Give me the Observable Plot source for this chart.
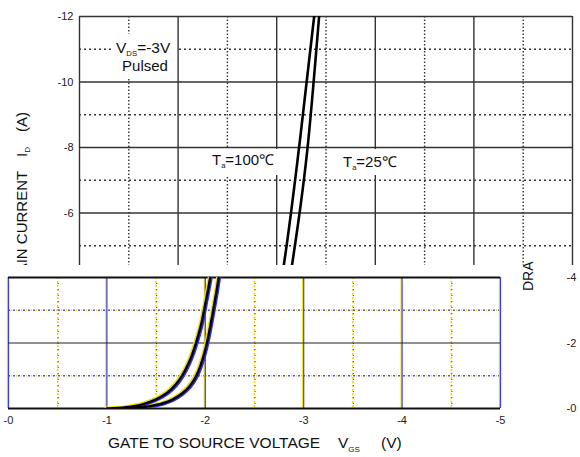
<!DOCTYPE html>
<html><head><meta charset="utf-8">
<script src="https://cdn.jsdelivr.net/npm/d3@7"></script>
<script src="https://cdn.jsdelivr.net/npm/@observablehq/plot@0.6"></script>
<style>
body{margin:0;background:#fff;font-family:"Liberation Sans",Arial,sans-serif;}
#wrap{position:relative;width:580px;height:457px;overflow:hidden;background:#fff;}
#wrap svg{position:absolute;left:0;}
</style></head><body><div id="wrap"></div>
<script>
// ---- data ----
const vgs100 = [-1.0, -1.2, -1.35, -1.45, -1.55, -1.65, -1.73, -1.8, -1.86, -1.91, -1.96, -2.0, -2.05, -2.235, -2.38];
const id100  = [0, -0.04, -0.12, -0.22, -0.36, -0.58, -0.85, -1.2, -1.6, -2.05, -2.6, -3.2, -4.0, -8.2, -12];
const vgs25  = [-1.1, -1.3, -1.45, -1.57, -1.67, -1.76, -1.84, -1.9, -1.95, -2.0, -2.04, -2.08, -2.12, -2.145, -2.32, -2.43];
const id25   = [0, -0.03, -0.08, -0.16, -0.28, -0.45, -0.68, -0.95, -1.3, -1.8, -2.35, -3.0, -3.7, -4.2, -8.2, -12];

const majorX = [0, -1, -2, -3, -4, -5];
const minorX = [-0.5, -1.5, -2.5, -3.5, -4.5];
const xTickLabels = ["-0", "-1", "-2", "-3", "-4", "-5"];
const topMajorY = [-12, -10, -8, -6, -4];
const topMinorY = [-11, -9, -7, -5];
const topTickLabels = ["-12", "-10", "-8", "-6", "-4"];
const botMajorY = [-4, -2, 0];
const botMinorY = [-3, -1];
const botTickLabels = ["-4", "-2", "-0"];

const t100 = vgs100.map((v, i) => ({v, id: id100[i]}));
const t25 = vgs25.map((v, i) => ({v, id: id25[i]}));
const font = "'Liberation Sans', Arial, sans-serif";
const wrap = document.getElementById("wrap");

// ---- upper panel ----
const topChart = Plot.plot({
  width: 580, height: 278,
  marginTop: 16, marginBottom: 0, marginLeft: 79, marginRight: 8,
  x: {domain: [0, -5]},
  y: {domain: [-4, -12]},
  style: {fontFamily: font, fontSize: "11px", background: "white", color: "#222", overflow: "visible"},
  marks: [
    Plot.ruleY(topMinorY, {stroke: "#333", strokeWidth: 1.3, strokeDasharray: "2,3"}),
    Plot.ruleX(minorX, {stroke: "#333", strokeWidth: 1.4, strokeDasharray: "1.5,2"}),
    Plot.ruleY(topMajorY, {stroke: "#333", strokeWidth: 1.3}),
    Plot.ruleX(majorX, {stroke: "#333", strokeWidth: 1.4}),
    Plot.line(t100, {x: "v", y: "id", stroke: "#000", strokeWidth: 2.6, curve: "monotone-x", clip: true}),
    Plot.line(t25, {x: "v", y: "id", stroke: "#000", strokeWidth: 2.6, curve: "monotone-x", clip: true}),
    Plot.axisY(topMajorY.slice(0, 4), {tickSize: 0, tickPadding: 6, label: null, fontSize: 11,
      tickFormat: d => topTickLabels[topMajorY.indexOf(d)]})
  ]
});
topChart.style.top = "0px";
wrap.append(topChart);

// ---- annotations in the upper panel + y title (below the lower panel) ----
const ovA = d3.select(wrap).append("svg").attr("width", 580).attr("height", 457).style("top", "0px")
  .attr("font-family", font).attr("fill", "#111");
ovA.append("rect").attr("x", 111).attr("y", 34).attr("width", 66).attr("height", 43).attr("fill", "white");
ovA.append("rect").attr("x", 205).attr("y", 149).attr("width", 77).attr("height", 26).attr("fill", "white");
ovA.append("rect").attr("x", 336).attr("y", 149).attr("width", 72).attr("height", 26).attr("fill", "white");

function subLabel(x, y, main, sub, rest, size) {
  const t = ovA.append("text").attr("x", x).attr("y", y).attr("font-size", size);
  t.append("tspan").text(main);
  t.append("tspan").attr("font-size", size * 0.5).attr("dy", 3).text(sub);
  t.append("tspan").attr("dy", -3).text(rest);
  return t;
}
subLabel(116, 53, "V", "DS", "=-3V", 15.5);
ovA.append("text").attr("x", 145).attr("y", 71).attr("font-size", 15).attr("text-anchor", "middle").text("Pulsed");
subLabel(212, 165, "T", "a", "=100℃", 15);
subLabel(343, 167, "T", "a", "=25℃", 15);

const yt = ovA.append("text").attr("transform", "translate(27,295) rotate(-90)").attr("font-size", 15);
yt.append("tspan").attr("x", 0).text("DRAIN CURRENT");
yt.append("tspan").attr("x", 138).text("I");
yt.append("tspan").attr("font-size", 8).attr("dy", 3).text("D");
yt.append("tspan").attr("x", 163).attr("dy", -3).text("(A)");

// ---- lower panel ----
const botChart = Plot.plot({
  width: 580, height: 192,
  marginTop: 12, marginBottom: 49, marginLeft: 8, marginRight: 80,
  x: {domain: [0, -5]},
  y: {domain: [0, -4]},
  style: {fontFamily: font, fontSize: "11px", background: "white", color: "#222", overflow: "visible"},
  marks: [
    Plot.ruleX(minorX, {stroke: "#e6d800", strokeWidth: 1.5, strokeDasharray: "2,2"}),
    Plot.ruleX(minorX, {stroke: "#4a4ae0", strokeWidth: 1.2, strokeDasharray: "1,5", dx: 0.5}),
    Plot.ruleY(botMinorY, {stroke: "#5555d5", strokeWidth: 1.3, strokeDasharray: "2,3"}),
    Plot.ruleY(botMinorY, {stroke: "#e6d800", strokeWidth: 1.3, strokeDasharray: "1,4", strokeDashoffset: 2}),
    Plot.ruleX(majorX, {stroke: "#f0e000", strokeWidth: 1.2, dx: -1}),
    Plot.ruleX(majorX, {stroke: "#3c3ce6", strokeWidth: 1.2}),
    Plot.ruleY(botMajorY.filter(d => d === -2), {stroke: "#222", strokeWidth: 1}),
    Plot.ruleY(botMajorY.filter(d => d !== -2), {stroke: "#111", strokeWidth: 2}),
    Plot.line(t100, {x: "v", y: "id", stroke: "#f0e000", strokeWidth: 2, dx: -1.4, dy: -1, curve: "monotone-x", clip: true}),
    Plot.line(t25, {x: "v", y: "id", stroke: "#f0e000", strokeWidth: 2, dx: -1.4, dy: -1, curve: "monotone-x", clip: true}),
    Plot.line(t100, {x: "v", y: "id", stroke: "#3030e0", strokeWidth: 2, dx: 1.4, dy: 1, curve: "monotone-x", clip: true}),
    Plot.line(t25, {x: "v", y: "id", stroke: "#3030e0", strokeWidth: 2, dx: 1.4, dy: 1, curve: "monotone-x", clip: true}),
    Plot.line(t100, {x: "v", y: "id", stroke: "#000", strokeWidth: 2.4, curve: "monotone-x", clip: true}),
    Plot.line(t25, {x: "v", y: "id", stroke: "#000", strokeWidth: 2.4, curve: "monotone-x", clip: true}),
    Plot.axisX(majorX, {tickSize: 0, tickPadding: 8, label: null, fontSize: 11,
      tickFormat: d => xTickLabels[majorX.indexOf(d)]}),
    Plot.axisY(botMajorY, {anchor: "right", tickSize: 0, tickPadding: 66, label: null, fontSize: 11,
      tickFormat: d => botTickLabels[botMajorY.indexOf(d)]})
  ]
});
botChart.style.top = "265px";
wrap.append(botChart);

// ---- x title and clipped label fragment ----
const ovB = d3.select(wrap).append("svg").attr("width", 580).attr("height", 457).style("top", "0px")
  .attr("font-family", font).attr("fill", "#111");
const xt = ovB.append("text").attr("y", 448).attr("font-size", 15.5);
xt.append("tspan").attr("x", 108).text("GATE TO SOURCE VOLTAGE");
xt.append("tspan").attr("x", 338).text("V");
xt.append("tspan").attr("font-size", 8).attr("dy", 4).text("GS");
xt.append("tspan").attr("x", 381).attr("dy", -4).text("(V)");
ovB.append("text").attr("transform", "translate(533,291) rotate(-90)").attr("font-size", 14).text("DRA");
</script>
</body></html>
